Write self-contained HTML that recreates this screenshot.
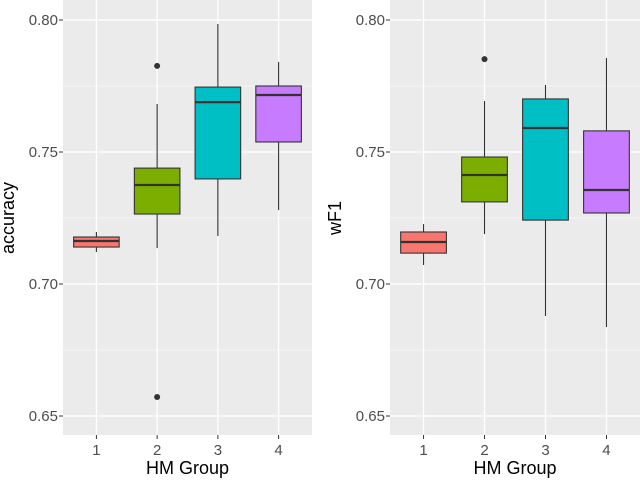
<!DOCTYPE html>
<html><head><meta charset="utf-8"><style>
body{margin:0;background:#fff;font-family:"Liberation Sans",sans-serif}
svg text{font-family:"Liberation Sans",sans-serif}
</style></head><body>
<svg id="chart" width="640" height="481"></svg>
<script>
const groups=["1","2","3","4"];
const colors=["#F8766D","#7CAE00","#00BFC4","#C77CFF"];
const yTicks=[0.65,0.70,0.75,0.80];
const yTickLabels=["0.65","0.70","0.75","0.80"];
// accuracy panel: [lowWhisker, q1, median, q3, highWhisker]
const accLow=[0.7121,0.7136,0.7182,0.7280];
const accQ1=[0.7140,0.7265,0.7398,0.7538];
const accMed=[0.7163,0.7375,0.7689,0.7716];
const accQ3=[0.7178,0.7439,0.7746,0.7750];
const accHigh=[0.7197,0.7682,0.7985,0.7841];
const accOut=[[],[0.7826,0.6572],[],[]];
// wF1 panel
const wLow=[0.7072,0.7189,0.6879,0.6837];
const wQ1=[0.7117,0.7311,0.7242,0.7269];
const wMed=[0.7159,0.7413,0.7591,0.7356];
const wQ3=[0.7197,0.7481,0.7701,0.7580];
const wHigh=[0.7227,0.7693,0.7754,0.7856];
const wOut=[[],[0.7852],[],[]];

const svg=document.getElementById('chart');
const NS="http://www.w3.org/2000/svg";
function mk(tag,attrs,parent){const e=document.createElementNS(NS,tag);for(const k in attrs)e.setAttribute(k,attrs[k]);(parent||svg).appendChild(e);return e;}
const yScale=v=>20+(0.80-v)*2640;

function panel(x0,x1,title,low,q1,med,q3,high,outs,key){
  const g=mk('g',{});
  
  
  const bg=mk('rect',{x:x0,y:0,width:x1-x0,height:435,fill:'#EBEBEB'},g);
  
  
  const step=(x1-x0)/4.1, xs=i=>x0+step*(i+0.55);
  for(let i=0;i<yTicks.length-1;i++){
    const y=yScale((yTicks[i]+yTicks[i+1])/2);
    mk('line',{x1:x0,x2:x1,y1:y,y2:y,stroke:'#fff','stroke-width':0.6},g);
  }
  yTicks.forEach((t,i)=>{
    const y=yScale(t);
    mk('line',{x1:x0,x2:x1,y1:y,y2:y,stroke:'#fff','stroke-width':1.3},g);
    mk('line',{x1:x0-4,x2:x0,y1:y,y2:y,stroke:'#333','stroke-width':1},g);
    const tx=mk('text',{x:x0-5,y:y+5,'text-anchor':'end','font-size':15,fill:'#4d4d4d'},g);
    tx.textContent=yTickLabels[i];
    
    
  });
  groups.forEach((gname,i)=>{
    const x=xs(i);
    mk('line',{x1:x,x2:x,y1:0,y2:435,stroke:'#fff','stroke-width':1.3},g);
    mk('line',{x1:x,x2:x,y1:435,y2:439,stroke:'#333','stroke-width':1},g);
    const tx=mk('text',{x:x,y:455,'text-anchor':'middle','font-size':15,fill:'#4d4d4d'},g);
    tx.textContent=gname;
    
    
  });
  groups.forEach((gname,i)=>{
    const x=xs(i),w=step*0.75;
    const bx=mk('g',{},g);
    
    
    mk('line',{x1:x,x2:x,y1:yScale(high[i]),y2:yScale(q3[i]),stroke:'#333','stroke-width':1.1},bx);
    mk('line',{x1:x,x2:x,y1:yScale(q1[i]),y2:yScale(low[i]),stroke:'#333','stroke-width':1.1},bx);
    mk('rect',{x:x-w/2,y:yScale(q3[i]),width:w,height:yScale(q1[i])-yScale(q3[i]),fill:colors[i],stroke:'#333','stroke-width':1.1},bx);
    mk('line',{x1:x-w/2,x2:x+w/2,y1:yScale(med[i]),y2:yScale(med[i]),stroke:'#333','stroke-width':2.2},bx);
    outs[i].forEach(o=>{
      const c=mk('circle',{cx:x,cy:yScale(o),r:3,fill:'#333'},bx);
      
      
    });
  });
  const xt=mk('text',{x:(x0+x1)/2,y:474,'text-anchor':'middle','font-size':18,fill:'#000'},g);
  xt.textContent='HM Group';
  
  
  const yt=mk('text',{x:0,y:0,'text-anchor':'middle','font-size':18,fill:'#000',transform:`translate(${x0-49},218) rotate(-90)`},g);
  yt.textContent=title;
  
  
}
panel(63,312,'accuracy',accLow,accQ1,accMed,accQ3,accHigh,accOut,'accuracy');
panel(390,640,'wF1',wLow,wQ1,wMed,wQ3,wHigh,wOut,'wf1');
</script>
</body></html>
